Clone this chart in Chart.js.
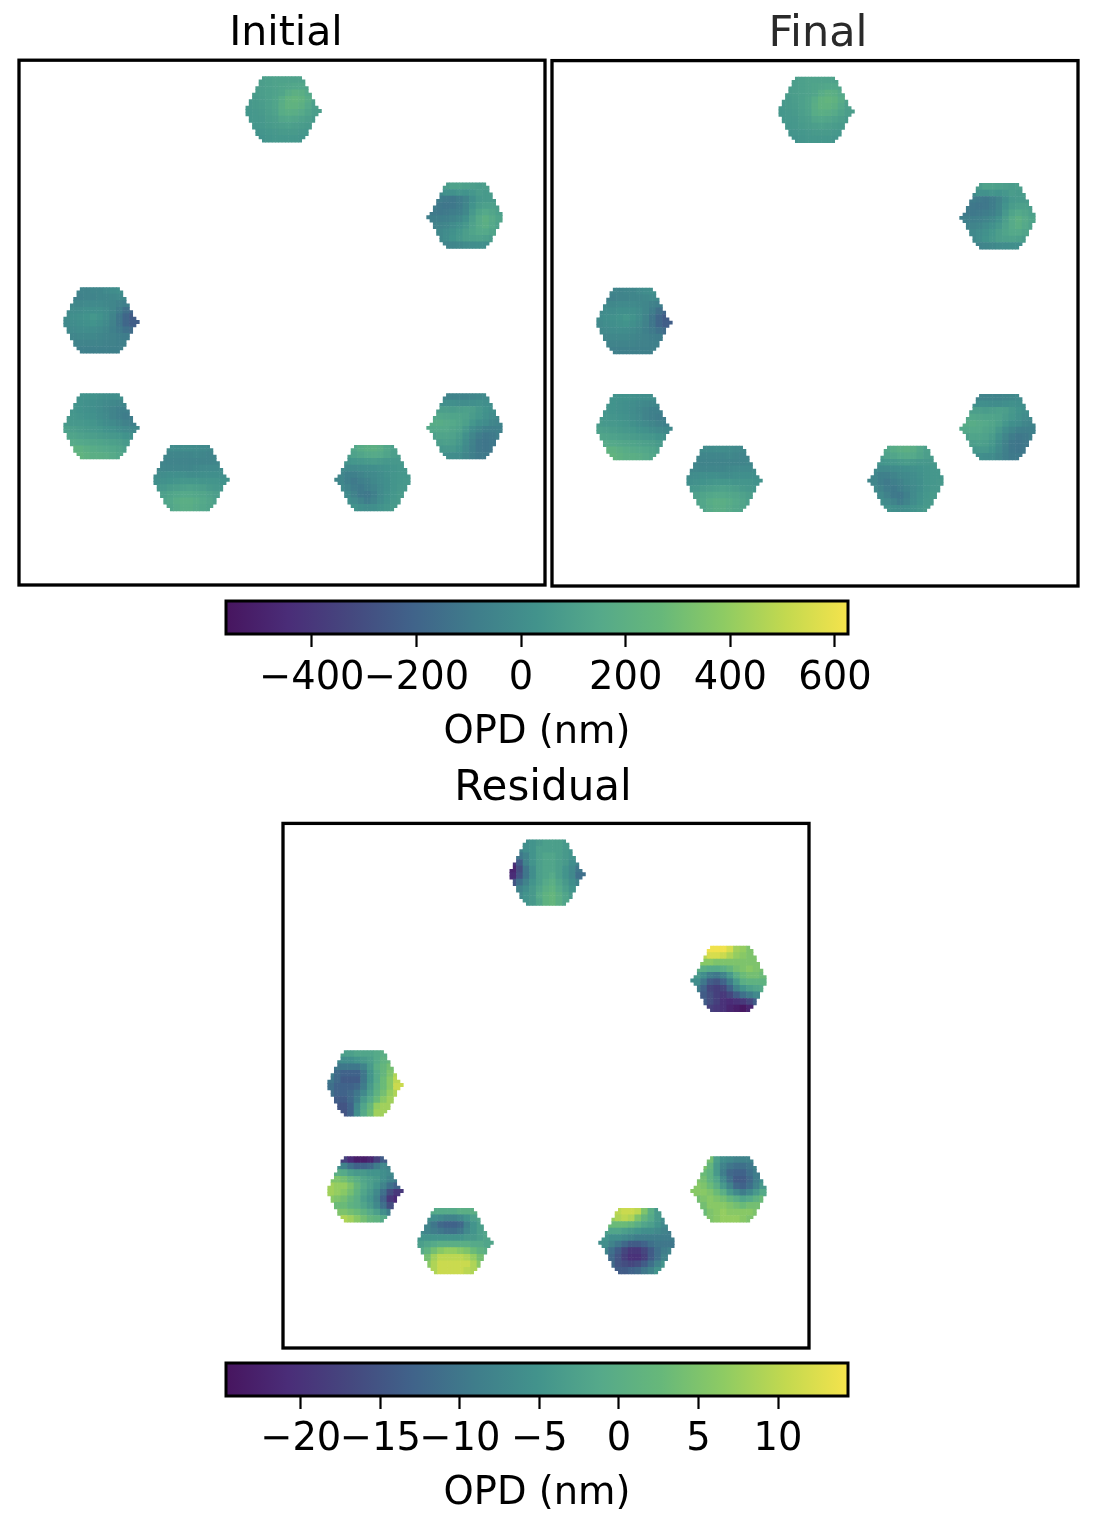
<!DOCTYPE html>
<html>
<head>
<meta charset="utf-8">
<title>OPD maps</title>
<script src="https://cdn.jsdelivr.net/npm/chart.js@4"></script>
<style>
  html, body { margin: 0; padding: 0; background: #fff; width: 1096px; height: 1516px; overflow: hidden; }
  canvas { position: absolute; filter: blur(0.5px); }
</style>
</head>
<body>
<canvas id="initialChart"></canvas>
<canvas id="finalChart"></canvas>
<canvas id="initialBar"></canvas>
<canvas id="residualChart"></canvas>
<canvas id="residualBar"></canvas>
<script>
// Each patch: 10 rows x 11 columns of OPD in nm (one value per 2x2 map pixels)
const initialTop = [
  [90,90,90,100,110,110,110,110,110,100,90],
  [90,85,90,100,110,120,130,140,140,120,100],
  [70,80,90,100,110,130,170,200,190,150,110],
  [60,70,85,100,120,170,220,240,220,170,110],
  [60,70,80,100,120,180,220,220,200,150,100],
  [50,60,70,90,110,170,190,180,160,120,90],
  [50,55,60,80,90,130,140,130,110,90,70],
  [50,50,55,70,80,90,100,90,80,70,60],
  [30,35,40,50,60,70,70,70,60,50,50],
  [20,20,30,40,50,50,50,50,40,30,30]
];
const initialRightTop = [
  [40,50,80,110,110,100,90,80,90,90,90],
  [-40,-20,20,20,40,30,50,80,70,80,80],
  [-80,-90,-100,-110,-90,-50,10,60,70,70,70],
  [-90,-110,-120,-110,-90,-40,30,80,100,100,90],
  [-100,-110,-100,-90,-70,-30,60,120,150,130,100],
  [-80,-80,-70,-50,-30,20,90,160,200,160,120],
  [-60,-50,-40,-10,20,60,110,160,190,150,110],
  [-50,-30,-10,20,50,90,120,150,150,120,90],
  [-50,-30,0,30,60,90,100,110,100,80,60],
  [-80,-60,-50,-40,-30,-10,0,10,10,0,0]
];
const initialLeft = [
  [-60,-60,-50,-50,-40,-40,-20,0,10,10,10],
  [-70,-70,-60,-50,-50,-40,-40,-30,-20,-20,-30],
  [-40,-30,-30,-20,-20,-20,-30,-40,-60,-80,-120],
  [-20,-10,0,10,10,10,-10,-40,-90,-150,-190],
  [-10,10,20,30,50,30,0,-50,-120,-190,-240],
  [-20,0,10,20,30,10,-20,-60,-120,-190,-230],
  [-30,-20,-10,0,-10,-20,-40,-70,-100,-140,-160],
  [-40,-40,-30,-30,-30,-40,-50,-60,-80,-90,-100],
  [-50,-50,-50,-50,-50,-50,-60,-60,-70,-70,-70],
  [-70,-70,-70,-70,-70,-70,-70,-70,-70,-70,-70]
];
const initialLowerLeft = [
  [30,30,30,30,30,20,10,10,10,0,0],
  [50,40,30,20,10,0,-20,-30,-40,-40,-40],
  [40,40,30,20,10,-10,-30,-50,-70,-70,-70],
  [60,50,40,30,20,0,-20,-50,-70,-90,-90],
  [70,60,60,50,40,20,0,-20,-40,-60,-70],
  [100,90,80,70,60,50,30,20,0,-20,-30],
  [130,120,110,100,90,80,70,60,50,30,20],
  [170,160,150,140,130,120,110,100,90,70,60],
  [220,220,210,190,170,160,150,140,120,100,80],
  [230,230,230,210,190,190,180,160,140,120,100]
];
const initialBottomLeft = [
  [-20,-20,-10,-10,0,0,-10,-20,-30,-30,-30],
  [-30,-40,-40,-40,-40,-40,-30,-40,-50,-50,-50],
  [-50,-50,-50,-50,-50,-50,-50,-50,-50,-40,-30],
  [-40,-40,-40,-40,-40,-40,-30,-20,-20,-20,-10],
  [-10,0,10,10,10,0,0,10,10,10,10],
  [10,20,30,40,50,50,50,40,40,40,30],
  [50,60,80,90,100,110,100,90,70,60,50],
  [80,100,120,140,150,150,140,130,110,90,70],
  [100,120,140,170,190,190,170,150,130,100,80],
  [100,110,130,160,180,180,160,140,120,100,80]
];
const initialBottomRight = [
  [90,110,140,170,190,200,180,140,100,80,70],
  [70,80,110,130,150,160,150,120,90,80,70],
  [30,40,50,60,70,80,70,60,60,60,60],
  [-20,-20,-20,-10,0,10,20,30,40,50,50],
  [-40,-70,-70,-50,-30,-20,0,20,40,50,50],
  [-40,-80,-100,-80,-60,-30,-10,10,40,50,60],
  [-20,-50,-90,-100,-80,-50,-20,10,40,60,60],
  [0,-20,-60,-100,-110,-70,-20,20,50,70,70],
  [40,10,-20,-50,-90,-50,-10,30,60,70,70],
  [50,40,30,10,0,10,30,50,70,70,70]
];
const initialRightLow = [
  [-30,-40,-50,-50,-50,-50,-40,-30,-20,-20,-20],
  [30,20,10,10,0,0,10,20,10,10,10],
  [100,90,90,80,90,100,90,60,30,10,-10],
  [140,140,130,120,120,110,80,50,20,-10,-20],
  [170,170,160,150,130,100,50,10,-10,-40,-50],
  [150,150,150,130,110,60,0,-40,-70,-80,-70],
  [100,120,120,110,80,20,-40,-90,-110,-100,-80],
  [70,90,100,90,60,0,-60,-110,-120,-110,-90],
  [40,50,60,60,30,-20,-70,-110,-120,-110,-80],
  [10,10,10,0,-10,-40,-80,-100,-100,-90,-70]
];

const residualTop = [
  [-6,-6,-6,-5,-4,-3,-3,-3,-4,-5,-5],
  [-9,-8,-6,-5,-3,-3,-3,-3,-4,-5,-6],
  [-14,-10,-8,-5,-3,-2,-2,-3,-4,-5,-7],
  [-20,-14,-8,-5,-3,-2,-2,-3,-4,-6,-8],
  [-22,-16,-10,-6,-3,-2,-2,-3,-5,-7,-10],
  [-21,-15,-10,-6,-3,-2,-1,-3,-5,-7,-11],
  [-15,-11,-8,-5,-3,-1,0,-2,-4,-6,-8],
  [-10,-8,-6,-4,-2,0,1,-1,-3,-5,-7],
  [-8,-7,-5,-4,-1,1,2,0,-2,-4,-5],
  [-6,-6,-5,-4,-2,1,2,0,-2,-3,-4]
];
const residualRightTop = [
  [10,12,14,14,14,12,8,7,5,4,3],
  [8,10,12,12,11,9,7,6,5,5,4],
  [5,6,6,5,5,5,5,5,5,5,4],
  [0,0,-1,-1,0,2,4,5,6,5,4],
  [-4,-6,-9,-10,-8,-4,0,3,4,4,3],
  [-6,-10,-14,-15,-13,-9,-4,0,1,1,1],
  [-9,-13,-17,-18,-17,-13,-8,-5,-3,-2,-1],
  [-11,-14,-16,-18,-19,-17,-14,-11,-9,-7,-5],
  [-14,-14,-16,-18,-20,-21,-20,-19,-17,-14,-12],
  [-18,-18,-18,-19,-20,-22,-23,-24,-22,-20,-18]
];
const residualLeft = [
  [-5,-4,-3,-3,-2,-2,-2,-1,0,1,1],
  [-7,-7,-6,-6,-5,-4,-3,-1,1,2,3],
  [-8,-10,-10,-10,-10,-8,-4,0,2,4,7],
  [-9,-12,-13,-13,-13,-10,-5,-1,2,5,9],
  [-10,-12,-14,-14,-14,-10,-5,-1,3,6,10],
  [-11,-13,-13,-13,-12,-9,-4,0,3,6,11],
  [-11,-13,-13,-12,-10,-7,-3,1,4,7,9],
  [-11,-14,-14,-12,-9,-4,-1,3,6,8,7],
  [-12,-15,-15,-13,-7,-2,2,7,8,8,6],
  [-15,-15,-15,-13,-6,-1,3,8,8,8,6]
];
const residualLowerLeft = [
  [-12,-14,-18,-21,-23,-23,-22,-18,-14,-12,-10],
  [-6,-6,-8,-11,-13,-13,-12,-9,-7,-8,-8],
  [0,0,-1,-3,-4,-4,-5,-5,-6,-7,-8],
  [5,5,4,2,0,-2,-3,-4,-6,-8,-9],
  [8,7,7,5,2,-1,-3,-5,-8,-11,-13],
  [8,7,6,4,1,-2,-4,-7,-11,-16,-19],
  [6,5,4,2,0,-3,-5,-8,-13,-19,-21],
  [3,3,3,1,0,-2,-4,-7,-11,-16,-18],
  [4,5,5,4,3,1,-1,-3,-6,-9,-11],
  [8,8,9,8,6,4,2,1,-1,-3,-4]
];
const residualBottomLeft = [
  [-2,-2,-1,-1,-1,-1,0,0,0,1,1],
  [-6,-6,-6,-7,-8,-8,-7,-5,-3,-2,-1],
  [-8,-8,-10,-12,-13,-13,-12,-8,-5,-3,-2],
  [-7,-8,-9,-10,-11,-11,-10,-7,-5,-3,-2],
  [-5,-5,-5,-5,-5,-5,-5,-4,-4,-3,-2],
  [-3,-2,-1,0,0,0,0,0,-1,-1,-2],
  [-1,1,4,6,7,7,6,5,3,1,0],
  [1,4,8,10,10,10,10,9,7,4,3],
  [3,6,9,11,11,11,11,11,9,6,4],
  [4,6,9,11,11,11,11,10,9,6,5]
];
const residualBottomRight = [
  [5,7,10,11,11,10,5,0,-4,-7,-9],
  [5,7,9,10,9,5,2,-1,-4,-6,-8],
  [1,3,3,3,2,0,-2,-3,-5,-7,-8],
  [-3,-2,-2,-3,-4,-5,-6,-6,-7,-8,-9],
  [-5,-6,-6,-7,-8,-9,-9,-9,-9,-9,-9],
  [-6,-8,-10,-12,-14,-14,-13,-11,-10,-10,-10],
  [-8,-11,-14,-17,-19,-19,-17,-14,-11,-9,-8],
  [-8,-12,-15,-18,-20,-20,-18,-14,-11,-8,-6],
  [-9,-12,-15,-16,-17,-16,-14,-11,-8,-5,-3],
  [-11,-13,-14,-14,-13,-12,-10,-8,-5,-2,0]
];
const residualRightLow = [
  [7,8,4,-3,-6,-7,-8,-8,-8,-7,-6],
  [6,5,2,-4,-8,-10,-11,-11,-10,-8,-7],
  [5,3,1,-4,-9,-12,-13,-13,-11,-9,-7],
  [5,4,1,-2,-7,-11,-14,-14,-12,-9,-6],
  [6,5,3,0,-4,-8,-12,-13,-11,-8,-4],
  [6,6,5,3,0,-4,-7,-9,-7,-4,-1],
  [4,5,6,5,4,2,0,-2,-1,1,3],
  [1,4,6,6,6,5,4,3,4,4,4],
  [0,3,5,6,7,6,6,6,6,5,3],
  [0,2,5,6,7,7,7,6,5,4,3]
];

const initialPatches = [initialTop, initialRightTop, initialLeft, initialLowerLeft, initialBottomLeft, initialBottomRight, initialRightLow];
// Final can't be told apart from Initial on this colour scale, so it shows the same readings
const finalPatches = initialPatches;
const residualPatches = [residualTop, residualRightTop, residualLeft, residualLowerLeft, residualBottomLeft, residualBottomRight, residualRightLow];

// Where the patches sit on the 160 x 160 map, and the hexagon outline in map pixels
const patchCols = [69, 125, 13.6, 13.6, 41, 97, 125];
const patchRows = [5, 37.4, 69.3, 101.6, 117.4, 117.4, 101.6];
const patchSpikes = [1, -1, 1, 1, 1, -1, -1];
const rowIndents = [5, 4, 4, 3, 3, 2, 2, 1, 1, 0, 0, 0, 1, 1, 2, 2, 3, 3, 4, 5];
const patchWidth = 22;
const spikeRow = 10;

const initialRange = [-564, 625];
const initialTicks = [-400, -200, 0, 200, 400, 600];
const residualRange = [-24.7, 14.4];
const residualTicks = [-20, -15, -10, -5, 0, 5, 10];

const cmapStops = ['#47155f', '#4a2d78', '#45487f', '#40638a', '#3f7d8b', '#42938c', '#55a98a', '#67b87a', '#8ecb63', '#c3d94f', '#f5e34c'];

function cmapColor(t) {
  t = Math.max(0, Math.min(1, t)) * (cmapStops.length - 1);
  const i = Math.min(Math.floor(t), cmapStops.length - 2);
  const f = t - i;
  const a = cmapStops[i], b = cmapStops[i + 1];
  let out = '#';
  for (let k = 1; k < 7; k += 2) {
    const v = Math.round(parseInt(a.substr(k, 2), 16) * (1 - f) + parseInt(b.substr(k, 2), 16) * f);
    out += v.toString(16).padStart(2, '0');
  }
  return out;
}

// one map pixel per point, its value taken from the 2x2 reading it falls in
function patchPoints(patches, range) {
  const points = [], colors = [];
  patches.forEach((grid, p) => {
    rowIndents.forEach((indent, r) => {
      let from = indent, to = patchWidth - indent;
      if (r === spikeRow && patchSpikes[p] < 0) from -= 1;
      if (r === spikeRow && patchSpikes[p] > 0) to += 1;
      for (let c = from; c < to; c++) {
        const gc = Math.max(0, Math.min(10, Math.floor(c / 2)));
        const value = grid[Math.floor(r / 2)][gc];
        points.push({ x: patchCols[p] + c + 0.5, y: patchRows[p] + r + 0.5, v: value });
        colors.push(cmapColor((value - range[0]) / (range[1] - range[0])));
      }
    });
  });
  return { points, colors };
}

const framePlugin = {
  id: 'frame',
  afterLayout(chart, args, opts) {
    if (opts.titleShift && chart.titleBlock) {
      chart.titleBlock.left += opts.titleShift;
      chart.titleBlock.right += opts.titleShift;
    }
  },
  afterDraw(chart, args, opts) {
    const a = chart.chartArea, ctx = chart.ctx;
    ctx.save();
    ctx.strokeStyle = '#000';
    ctx.lineWidth = opts.width;
    ctx.strokeRect(a.left, a.top, a.right - a.left, a.bottom - a.top);
    ctx.restore();
  }
};
Chart.register(framePlugin);

function place(id, left, top, width, height) {
  const el = document.getElementById(id);
  el.width = width;
  el.height = height;
  el.style.left = left + 'px';
  el.style.top = top + 'px';
  el.style.width = width + 'px';
  el.style.height = height + 'px';
  return el;
}

function mapChart(id, box, area, title, patches, range) {
  const el = place(id, box.left, box.top, box.width, box.height);
  const data = patchPoints(patches, range);
  return new Chart(el, {
    type: 'scatter',
    data: {
      datasets: [{
        label: title.text,
        data: data.points,
        backgroundColor: data.colors,
        borderWidth: 0,
        pointStyle: 'rect',
        pointRadius: 2.75,
        pointHoverRadius: 2.75
      }]
    },
    options: {
      responsive: false,
      animation: false,
      layout: { padding: { left: area.left - box.left, right: box.left + box.width - area.right, bottom: box.top + box.height - area.bottom, top: 0 } },
      scales: {
        x: { display: false, min: 0, max: 160 },
        y: { display: false, min: 0, max: 160, reverse: true }
      },
      plugins: {
        legend: { display: false },
        tooltip: { enabled: false },
        frame: { width: 3.3, titleShift: title.shift },
        title: {
          display: true,
          text: title.text,
          color: title.color,
          padding: title.pad,
          font: { family: 'DejaVu Sans', size: title.size, weight: 'normal' }
        }
      }
    }
  });
}

function barChart(id, top, range, ticks, tickPad, labelPad) {
  const el = place(id, 0, top, 1096, 170);
  return new Chart(el, {
    type: 'bar',
    data: {
      labels: ['OPD'],
      datasets: [{
        data: [range],
        barPercentage: 1,
        categoryPercentage: 1,
        backgroundColor(ctx) {
          const a = ctx.chart.chartArea;
          if (!a) return '#888';
          const g = ctx.chart.ctx.createLinearGradient(a.left, 0, a.right, 0);
          cmapStops.forEach((c, i) => g.addColorStop(i / (cmapStops.length - 1), c));
          return g;
        }
      }]
    },
    options: {
      responsive: false,
      animation: false,
      indexAxis: 'y',
      layout: { padding: { left: 226, right: 248, top: 11, bottom: 0 } },
      scales: {
        y: { display: false },
        x: {
          min: range[0],
          max: range[1],
          afterBuildTicks(scale) { scale.ticks = ticks.map(v => ({ value: v })); },
          afterFit(scale) { scale.height = 126; },
          grid: { drawOnChartArea: false, tickLength: 13, tickWidth: 2.2, tickColor: '#000' },
          border: { display: false },
          ticks: {
            autoSkip: false,
            maxRotation: 0,
            padding: tickPad,
            color: '#000',
            font: { family: 'DejaVu Sans', size: 38.4 },
            callback: v => String(v).replace('-', '\u2212')
          },
          title: {
            display: true,
            text: 'OPD (nm)',
            color: '#000',
            padding: { top: 0, bottom: labelPad },
            font: { family: 'DejaVu Sans', size: 38.4 }
          }
        }
      },
      plugins: {
        legend: { display: false },
        tooltip: { enabled: false },
        frame: { width: 3 }
      }
    }
  });
}

mapChart('initialChart', { left: 0, top: 0, width: 572, height: 590 }, { left: 19, right: 545, bottom: 585 },
  { text: 'Initial', color: '#000', size: 41, pad: { top: 10, bottom: 1 }, shift: 4 }, initialPatches, initialRange);
mapChart('finalChart', { left: 545, top: 0, width: 547, height: 591 }, { left: 552, right: 1078, bottom: 586 },
  { text: 'Final', color: '#2a2a2a', size: 43, pad: { top: 9, bottom: 0 }, shift: 3 }, finalPatches, initialRange);
barChart('initialBar', 590, initialRange, initialTicks, 9, 4);
mapChart('residualChart', { left: 270, top: 754, width: 546, height: 600 }, { left: 283, right: 809, bottom: 1348 },
  { text: 'Residual', color: '#000', size: 42, pad: { top: 10, bottom: 9 }, shift: -3 }, residualPatches, residualRange);
barChart('residualBar', 1352, residualRange, residualTicks, 8, 5);
</script>
</body>
</html>
